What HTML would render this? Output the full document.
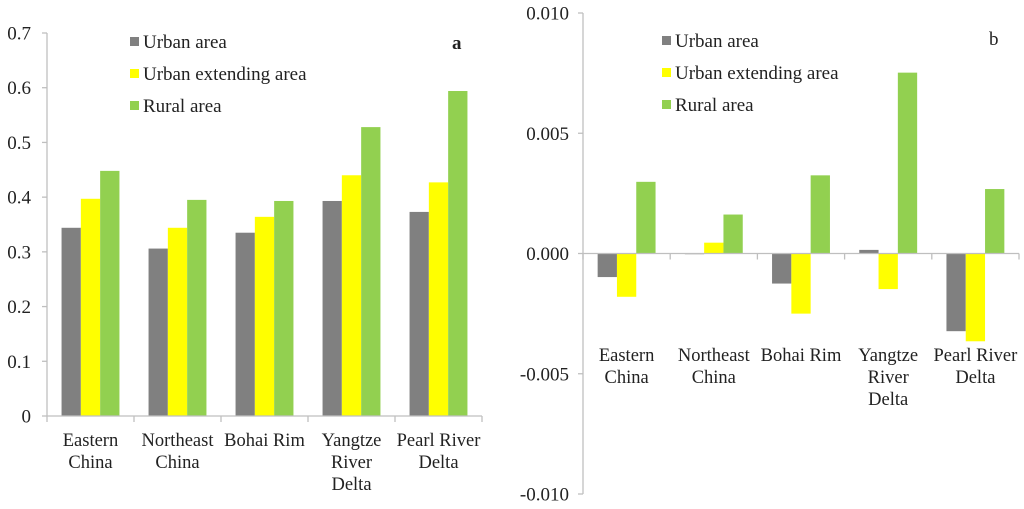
<!DOCTYPE html>
<html><head><meta charset="utf-8"><style>
body{margin:0;background:#fff;}
svg{display:block;font-family:"Liberation Serif",serif;}
</style></head><body>
<svg id="chart" width="1024" height="509"></svg>
<script>
const categories=[["Eastern","China"],["Northeast","China"],["Bohai Rim"],["Yangtze","River","Delta"],["Pearl River","Delta"]];
const seriesNames=["Urban area","Urban extending area","Rural area"];
const colors=["#808080","#ffff00","#92d050"];
const aUrban=[0.344,0.306,0.335,0.393,0.373];
const aExtend=[0.397,0.344,0.364,0.440,0.427];
const aRural=[0.448,0.395,0.393,0.528,0.594];
const aTicks=["0","0.1","0.2","0.3","0.4","0.5","0.6","0.7"];
const aTickVals=[0,0.1,0.2,0.3,0.4,0.5,0.6,0.7];
const bUrban=[-0.00098,-0.00003,-0.00125,0.00015,-0.00323];
const bExtend=[-0.0018,0.00045,-0.0025,-0.00148,-0.00365];
const bRural=[0.00298,0.00162,0.00325,0.00752,0.00268];
const bTicks=["-0.010","-0.005","0.000","0.005","0.010"];
const bTickVals=[-0.010,-0.005,0,0.005,0.010];

const svg=document.getElementById('chart');
const NS="http://www.w3.org/2000/svg";
function mk(tag,attrs,parent){const e=document.createElementNS(NS,tag);for(const k in attrs)e.setAttribute(k,attrs[k]);(parent||svg).appendChild(e);return e;}

function drawPanel(cfg){
  const g=mk('g',{});
  
  
  const y=v=>cfg.y0+(v-cfg.vmin)/(cfg.vmax-cfg.vmin)*(cfg.y1-cfg.y0);
  const cw=(cfg.xr-cfg.xl)/categories.length;
  const x=i=>cfg.xl+i*cw;
  const ya=mk('line',{x1:cfg.xl,x2:cfg.xl,y1:y(cfg.vmin),y2:y(cfg.vmax),stroke:'#bfbfbf','stroke-width':1.3},g);
  
  
  cfg.tickVals.forEach((v,i)=>{
    const t=mk('line',{x1:cfg.xl-5,x2:cfg.xl,y1:y(v),y2:y(v),stroke:'#bfbfbf','stroke-width':1.3},g);
    
    
    const tx=mk('text',{x:cfg.labelX,y:y(v)+6.5,'text-anchor':'end','font-size':19,fill:'#222'},g);
    tx.textContent=cfg.ticks[i];
    
    
  });
  const bw=19.3, off=(cw-3*bw)/2;
  cfg.series.forEach((arr,s)=>{
    arr.forEach((v,i)=>{
      const yy=y(v), yz=y(0);
      const r=mk('rect',{x:x(i)+off+s*bw,y:Math.min(yy,yz),width:bw,height:Math.max(0.6,Math.abs(yz-yy)),fill:colors[s]},g);
      
      
    });
  });
  const xa=mk('line',{x1:cfg.xl,x2:cfg.xr,y1:y(0),y2:y(0),stroke:'#bfbfbf','stroke-width':1.3},g);
  
  
  for(let i=0;i<=categories.length;i++){
    const t=mk('line',{x1:x(i),x2:x(i),y1:y(0),y2:y(0)+6,stroke:'#bfbfbf','stroke-width':1.3},g);
    
    
  }
  categories.forEach((c,i)=>{
    const tx=mk('text',{x:x(i)+cw/2,y:cfg.catY,'text-anchor':'middle','font-size':18.5,fill:'#222'},g);
    
    
    c.forEach((ln,j)=>{const ts=mk('tspan',{x:x(i)+cw/2,dy:j?22:0},tx);ts.textContent=ln;});
  });
  seriesNames.forEach((n,s)=>{
    const ly=cfg.legY+s*32;
    const r=mk('rect',{x:cfg.legX,y:ly-5,width:9,height:9,fill:colors[s]},g);
    
    
    const t=mk('text',{x:cfg.legX+13,y:ly+6,'font-size':19,fill:'#222'},g);
    t.textContent=n;
    
    
  });
  const pl=mk('text',{x:cfg.tagX,y:cfg.tagY,'font-size':19,'font-weight':cfg.id==='a'?'bold':'normal',fill:'#222'},g);
  pl.textContent=cfg.id;
  
  
}
drawPanel({id:'a',xl:47,xr:482,y0:416,y1:33,vmin:0,vmax:0.7,ticks:aTicks,tickVals:aTickVals,labelX:31,
  series:[aUrban,aExtend,aRural],catY:446,legX:130,legY:42,tagX:452,tagY:49});
drawPanel({id:'b',xl:583,xr:1019,y0:494,y1:13,vmin:-0.010,vmax:0.010,ticks:bTicks,tickVals:bTickVals,labelX:569,
  series:[bUrban,bExtend,bRural],catY:361,legX:662,legY:41,tagX:989,tagY:45});
</script>
</body></html>
